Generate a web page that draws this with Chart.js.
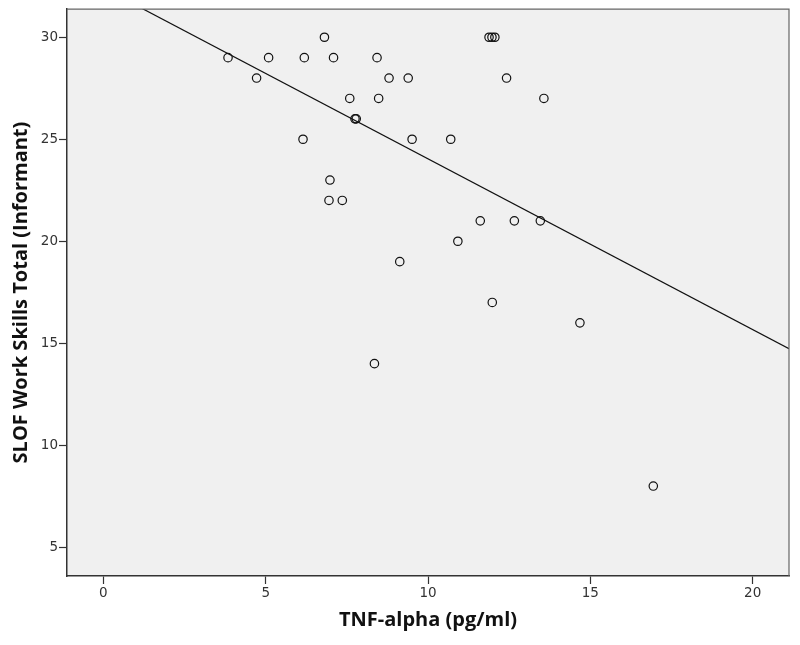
<!DOCTYPE html>
<html>
<head>
<meta charset="utf-8">
<script src="https://cdn.jsdelivr.net/npm/chart.js@4"></script>
<style>
  html, body { margin: 0; padding: 0; background: #ffffff; }
  #wrap { width: 800px; height: 645px; }
</style>
</head>
<body>
<div id="wrap"><canvas id="scatterChart"></canvas></div>
<script>
// TNF-alpha (pg/ml) vs SLOF work skills
const tnfAlpha = [3.84, 4.72, 5.09, 6.19, 6.81, 7.09, 8.43, 8.80, 7.59, 8.48,
                  7.75, 7.79, 6.15, 6.98, 6.95, 7.36, 9.13, 11.88, 11.97, 12.06,
                  9.39, 12.42, 13.57, 9.51, 10.70, 11.61, 12.66, 13.46, 10.92, 11.98,
                  14.68, 8.35, 16.94];
const slofWork = [29, 28, 29, 29, 30, 29, 29, 28, 27, 27,
                  26, 26, 25, 23, 22, 22, 19, 30, 30, 30,
                  28, 28, 27, 25, 25, 21, 21, 21, 20, 17,
                  16, 14, 8];

// fit line
const fitSlope = -0.837;
const fitIntercept = 32.41;

const xTicks = [0, 5, 10, 15, 20];
const yTicks = [5, 10, 15, 20, 25, 30];
const xRange = [-1.12, 21.12];
const yRange = [3.59, 31.38];

const points = tnfAlpha.map((v, i) => ({ x: v, y: slofWork[i] }));
const fitLine = xRange.map(v => ({ x: v, y: fitIntercept + fitSlope * v }));

const plotBg = {
  id: 'plotBg',
  beforeDraw(chart) {
    const { ctx, chartArea: a } = chart;
    ctx.save();
    ctx.fillStyle = '#f0f0f0';
    ctx.fillRect(a.left, a.top, a.right - a.left, a.bottom - a.top);
    ctx.restore();
  },
  afterDraw(chart) {
    const { ctx, chartArea: a } = chart;
    ctx.save();
    ctx.strokeStyle = '#666';
    ctx.lineWidth = 1.2;
    ctx.beginPath();
    ctx.moveTo(a.left, a.top);
    ctx.lineTo(a.right, a.top);
    ctx.lineTo(a.right, a.bottom);
    ctx.stroke();
    ctx.restore();
  }
};

const sc = document.getElementById('scatterChart');

new Chart(sc, {
  type: 'scatter',
  data: {
    datasets: [{
      label: 'Observed',
      data: points,
      pointStyle: 'circle',
      pointRadius: 4.2,
      pointBorderWidth: 1.2,
      pointBorderColor: '#111',
      pointBackgroundColor: 'rgba(0,0,0,0)',
      pointHoverRadius: 4.2
    }, {
      label: 'Linear',
      type: 'line',
      data: fitLine,
      borderColor: '#111',
      borderWidth: 1.2,
      pointRadius: 0,
      fill: false
    }]
  },
  options: {
    responsive: true,
    maintainAspectRatio: false,
    animation: false,
    layout: {
      padding: { left: 0, top: 8, right: 11, bottom: 0 }
    },
    plugins: {
      legend: { display: false },
      tooltip: { enabled: false }
    },
    scales: {
      x: {
        type: 'linear',
        min: xRange[0],
        max: xRange[1],
        afterBuildTicks: (scale) => { scale.ticks = xTicks.map(v => ({ value: v })); },
        afterFit: (scale) => { scale.height = 69; },
        grid: {
          drawOnChartArea: false,
          drawTicks: true,
          tickLength: 8,
          tickWidth: 1.2,
          color: '#333'
        },
        border: { display: true, color: '#333', width: 1.5 },
        ticks: {
          color: '#333',
          padding: 1,
          maxRotation: 0,
          font: { family: 'DejaVu Sans', size: 13.5 }
        },
        title: {
          display: true,
          text: 'TNF-alpha (pg/ml)',
          color: '#111',
          padding: { top: 0, bottom: 13 },
          font: { family: 'Open Sans', size: 20, weight: 'bold' }
        }
      },
      y: {
        type: 'linear',
        min: yRange[0],
        max: yRange[1],
        afterBuildTicks: (scale) => { scale.ticks = yTicks.map(v => ({ value: v })); },
        afterFit: (scale) => { scale.width = 67; },
        grid: {
          drawOnChartArea: false,
          drawTicks: true,
          tickLength: 8,
          tickWidth: 1.2,
          color: '#333'
        },
        border: { display: true, color: '#333', width: 1.5 },
        ticks: {
          color: '#333',
          padding: 1,
          font: { family: 'DejaVu Sans', size: 13.5 }
        },
        title: {
          display: true,
          text: 'SLOF Work Skills Total (Informant)',
          color: '#111',
          padding: { top: 9, bottom: 0 },
          font: { family: 'Open Sans', size: 20, weight: 'bold' }
        }
      }
    }
  },
  plugins: [plotBg]
});
</script>
</body>
</html>
